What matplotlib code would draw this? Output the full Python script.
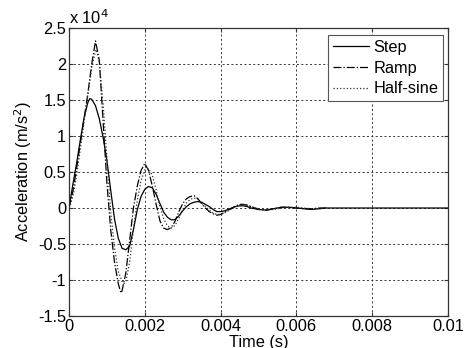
import matplotlib
matplotlib.use("Agg")
import matplotlib.pyplot as plt

plt.rcParams['font.family'] = ['Liberation Sans', 'DejaVu Sans']

# values in units of 1e4 m/s^2
step_t = [0, 0.0001, 0.0002, 0.0003, 0.0004, 0.0005, 0.00055, 0.0006, 0.0007, 0.0008,
          0.0009, 0.0010, 0.0011, 0.0012, 0.0013, 0.0014, 0.0015, 0.0016, 0.0017, 0.0018,
          0.0019, 0.0020, 0.0021, 0.0022, 0.0023, 0.0024, 0.0025, 0.0026, 0.0027, 0.0028,
          0.0029, 0.0030, 0.0031, 0.0032, 0.0033, 0.0034, 0.0035, 0.0036, 0.0037, 0.0038,
          0.0039, 0.0040, 0.0041, 0.0042, 0.0043, 0.0044, 0.0045, 0.0046, 0.0047, 0.0048,
          0.0050, 0.0052, 0.0054, 0.0056, 0.0058, 0.0060, 0.0062, 0.0064, 0.0066, 0.0068,
          0.0100]
step_a = [0, 0.32, 0.62, 0.95, 1.26, 1.47, 1.52, 1.51, 1.42, 1.24,
          0.98, 0.66, 0.25, -0.15, -0.42, -0.56, -0.58, -0.53, -0.30, -0.03,
          0.16, 0.26, 0.30, 0.28, 0.19, 0.06, -0.06, -0.13, -0.165, -0.16,
          -0.11, -0.04, 0.02, 0.06, 0.08, 0.09, 0.08, 0.05, 0.02, -0.02,
          -0.05, -0.05, -0.04, -0.02, 0.0, 0.02, 0.03, 0.03, 0.02, 0.0,
          -0.02, -0.03, -0.01, 0.01, 0.01, 0.0, -0.01, -0.02, -0.01, 0.0,
          0.0]

ramp_t = [0, 0.0001, 0.0002, 0.0003, 0.0004, 0.0005, 0.0006, 0.0007, 0.0008, 0.0009,
          0.0010, 0.0011, 0.0012, 0.0013, 0.00137, 0.0014, 0.0015, 0.0016, 0.0017, 0.0018,
          0.0019, 0.0020, 0.0021, 0.0022, 0.0023, 0.0024, 0.0025, 0.0026, 0.0027, 0.0028,
          0.0029, 0.0030, 0.0031, 0.0032, 0.0033, 0.0034, 0.0035, 0.0036, 0.0037, 0.0038,
          0.0039, 0.0040, 0.0041, 0.0042, 0.0043, 0.0044, 0.0045, 0.0046, 0.0047, 0.0048,
          0.0050, 0.0052, 0.0054, 0.0056, 0.0058, 0.0060, 0.0062, 0.0064, 0.0066, 0.0068]
ramp_a = [0, 0.22, 0.55, 0.90, 1.25, 1.60, 2.00, 2.32, 2.05, 1.20,
          0.35, -0.30, -0.75, -1.05, -1.18, -1.15, -0.90, -0.45, 0.0, 0.30,
          0.52, 0.62, 0.52, 0.30, 0.05, -0.18, -0.28, -0.30, -0.27, -0.18,
          -0.05, 0.06, 0.13, 0.16, 0.17, 0.13, 0.06, 0.0, -0.05, -0.08,
          -0.10, -0.09, -0.06, -0.03, 0.0, 0.03, 0.05, 0.05, 0.04, 0.02,
          -0.02, -0.03, -0.01, 0.01, 0.01, 0.0, -0.01, -0.01, 0.0, 0.0]

hsine_t = [0, 0.0001, 0.0002, 0.0003, 0.0004, 0.0005, 0.0006, 0.0007, 0.00072, 0.0008,
           0.0009, 0.0010, 0.0011, 0.0012, 0.0013, 0.0014, 0.00145, 0.0015, 0.0016, 0.0017,
           0.0018, 0.0019, 0.0020, 0.0021, 0.0022, 0.0023, 0.0024, 0.0025, 0.0026, 0.0027,
           0.0028, 0.0029, 0.0030, 0.0031, 0.0032, 0.0033, 0.0034, 0.0035, 0.0036, 0.0037,
           0.0038, 0.0039, 0.0040, 0.0041, 0.0042, 0.0043, 0.0044, 0.0045, 0.0046, 0.0047,
           0.0048, 0.0050, 0.0052, 0.0054, 0.0056, 0.0058, 0.0060, 0.0062, 0.0064, 0.0066,
           0.0068]
hsine_a = [0, 0.15, 0.45, 0.82, 1.20, 1.58, 1.95, 2.18, 2.20, 2.02,
           1.45, 0.70, -0.05, -0.55, -0.88, -1.02, -1.05, -1.02, -0.75, -0.30,
           0.10, 0.38, 0.53, 0.55, 0.45, 0.25, 0.02, -0.15, -0.25, -0.28,
           -0.24, -0.14, -0.02, 0.07, 0.12, 0.14, 0.12, 0.07, 0.02, -0.03,
           -0.07, -0.09, -0.09, -0.07, -0.04, -0.01, 0.02, 0.04, 0.05, 0.04,
           0.02, -0.01, -0.03, -0.02, 0.0, 0.01, 0.01, 0.0, -0.01, -0.01,
           0.0]

xticks = [0, 0.002, 0.004, 0.006, 0.008, 0.01]
xticklabels = ['0', '0.002', '0.004', '0.006', '0.008', '0.01']
yticks = [-1.5, -1, -0.5, 0, 0.5, 1, 1.5, 2, 2.5]
yticklabels = ['-1.5', '-1', '-0.5', '0', '0.5', '1', '1.5', '2', '2.5']

FS = 11.8

fig = plt.figure(figsize=(4.71, 3.48), dpi=100)
ax = fig.add_axes([69/471, 1-316/348, (448-69)/471, (316-28)/348])

ax.plot(step_t, step_a, '-', color='k', lw=0.9, label='Step')
ax.plot(ramp_t, ramp_a, '-.', color='k', lw=0.9, label='Ramp')
ax.plot(hsine_t, hsine_a, ':', color='#333333', lw=0.9, label='Half-sine')

ax.set_xlim(0, 0.01)
ax.set_ylim(-1.5, 2.5)
ax.set_xticks(xticks)
ax.set_xticklabels(xticklabels)
ax.set_yticks(yticks)
ax.set_yticklabels(yticklabels)
ax.tick_params(direction='in', top=True, right=True, labelsize=FS, length=3, pad=2,
               colors='#333333', labelcolor='k')
ax.grid(True, linestyle=(0, (2, 2.5)), color='#333333', lw=0.7)
for s in ax.spines.values():
    s.set_color('#333333')
    s.set_linewidth(0.9)

ax.set_xlabel('Time (s)', fontsize=FS, labelpad=1)
ax.set_ylabel('Acceleration (m/s$^2$)', fontsize=FS, labelpad=3)
ax.text(0.0, 1.005, 'x 10$^4$', transform=ax.transAxes, ha='left', va='bottom', fontsize=FS)

leg = ax.legend(loc='upper right', bbox_to_anchor=(0.987, 0.976), borderaxespad=0,
                fancybox=False, edgecolor='#555555', framealpha=1, fontsize=FS,
                handlelength=2.2, handletextpad=0.25, labelspacing=0.35, borderpad=0.3)
leg.get_frame().set_linewidth(0.8)

fig.savefig('out.png', dpi=100)
